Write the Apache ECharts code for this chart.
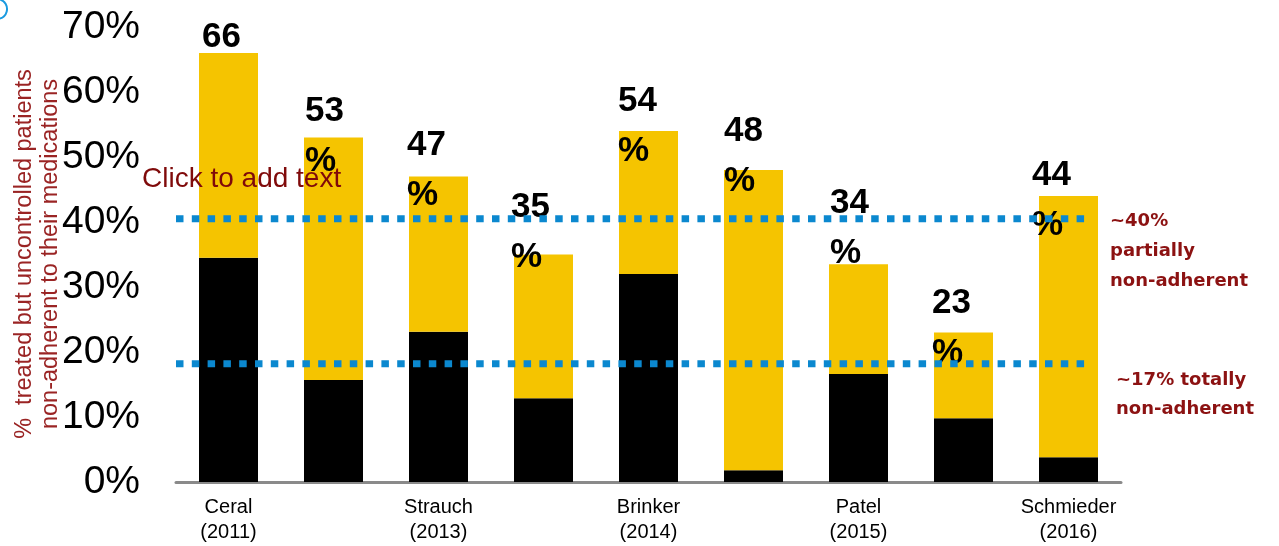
<!DOCTYPE html>
<html>
<head>
<meta charset="utf-8">
<script src="https://cdn.jsdelivr.net/npm/echarts@6/dist/echarts.min.js"></script>
<style>
    html, body { margin: 0; padding: 0; background: #fff; }
    #main { width: 1279px; height: 546px; }
</style>
</head>
<body>
<div id="main"></div>
<script>
// 研究名称（空白的是没有标签的柱子）
var categories = ['Ceral\n(2011)', '', 'Strauch\n(2013)', '', 'Brinker\n(2014)', '', 'Patel\n(2015)', '', 'Schmieder\n(2016)'];
// 柱子总高度（标签取整显示）
var totalPct = [66, 53, 47, 35, 54, 48, 33.5, 23, 44];
// 黑色部分：完全不依从
var totallyPct = [34.5, 15.7, 23.1, 12.9, 32.0, 1.8, 16.6, 9.8, 3.8];
// 两条参考虚线
var refLines = [40.5, 18.2];
var yTicks = [0, 70, 10]; // min, max, interval

// 标签位置微调（原图是手工摆放的）
var labelPos = [[3, -41], [1, -51], [-2, -56], [-3, -72], [-1, -55], [0, -64], [1, -86], [-2, -54], [-7, -46]];

var partialPct = totalPct.map(function (t, i) {
    return +(t - totallyPct[i]).toFixed(1);
});

var darkRed = '#8c1212';
var blue = '#0b88cf';

function refSeries(v) {
    return {
        type: 'line',
        xAxisIndex: 1,
        yAxisIndex: 0,
        silent: true,
        symbol: 'none',
        z: 3,
        lineStyle: { color: blue, width: 7, type: [7.5, 8.3], cap: 'butt' },
        data: [[0, v], [0.964, v]]
    };
}

var myChart = echarts.init(document.getElementById('main'));
var option = {
    animation: false,
    grid: { left: 176, right: 158, top: 27, bottom: 64 },
    xAxis: [{
        type: 'category',
        data: categories,
        axisLine: { lineStyle: { color: '#8a8a8a', width: 3 } },
        axisTick: { show: false },
        axisLabel: {
            interval: 0,
            color: '#000',
            fontFamily: 'Liberation Sans',
            fontSize: 20,
            lineHeight: 25,
            margin: 13
        }
    }, {
        type: 'value',
        show: false,
        min: 0,
        max: 1
    }],
    yAxis: {
        type: 'value',
        min: yTicks[0],
        max: yTicks[1],
        interval: yTicks[2],
        splitLine: { show: false },
        axisLine: { show: false },
        axisTick: { show: false },
        axisLabel: {
            formatter: '{value}%',
            color: '#000',
            fontFamily: 'Liberation Sans',
            fontSize: 39,
            margin: 36
        }
    },
    series: [{
        name: 'totally',
        type: 'bar',
        stack: 'a',
        barWidth: 59,
        itemStyle: { color: '#000' },
        data: totallyPct
    }, {
        name: 'partially',
        type: 'bar',
        stack: 'a',
        barWidth: 59,
        itemStyle: { color: '#f5c400' },
        label: {
            show: true,
            align: 'left',
            verticalAlign: 'top',
            color: '#000',
            fontFamily: 'Liberation Sans',
            fontWeight: 'bold',
            fontSize: 35,
            lineHeight: 50,
            formatter: function (p) {
                var n = Math.round(totalPct[p.dataIndex]);
                // 第一根柱子只显示数字
                if (p.dataIndex === 0) return n + '';
                return n + '\n%';
            }
        },
        data: partialPct.map(function (v, i) {
            return { value: v, label: { position: labelPos[i] } };
        })
    }, refSeries(refLines[0]), refSeries(refLines[1])],
    graphic: [{
        type: 'text',
        x: 38,
        y: 254,
        rotation: Math.PI / 2,
        style: {
            text: '%  treated but uncontrolled patients\nnon-adherent to their medications',
            align: 'center',
            verticalAlign: 'middle',
            fill: '#9a2424',
            font: '23.5px "Liberation Sans"',
            lineHeight: 26
        }
    }, {
        type: 'text',
        left: 142,
        top: 165,
        z: 10,
        style: {
            text: 'Click to add text',
            fill: '#7f0a0a',
            font: '28px "Liberation Sans"'
        }
    }, {
        type: 'text',
        left: 1110,
        top: 206,
        style: {
            text: '~40%\npartially\nnon-adherent',
            fill: darkRed,
            font: 'bold 18px "DejaVu Sans"',
            lineHeight: 30
        }
    }, {
        type: 'text',
        left: 1116,
        top: 366,
        style: {
            text: '~17% totally\nnon-adherent',
            fill: darkRed,
            font: 'bold 18px "DejaVu Sans"',
            lineHeight: 29
        }
    }, {
        type: 'arc',
        shape: { cx: -3, cy: 9, r: 10, startAngle: -1.3, endAngle: 1.3 },
        style: { stroke: '#1a9ae0', lineWidth: 2, fill: null }
    }]
};
myChart.setOption(option);
</script>
</body>
</html>
